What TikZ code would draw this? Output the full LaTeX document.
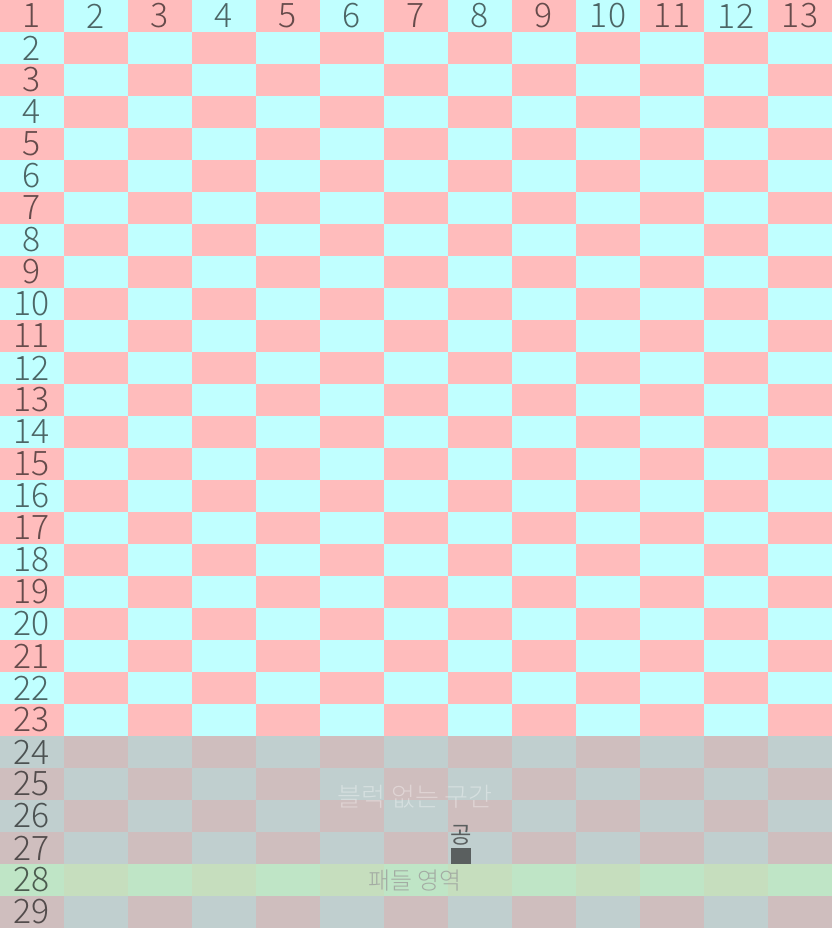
\documentclass[tikz,border=0pt]{standalone}
\usepackage{fontspec}
\setmainfont{Noto Sans CJK KR}
\newfontfamily\thinfont{Noto Sans CJK KR Light}
\usepackage{xcolor}
\usepackage{tikz}
\usetikzlibrary{positioning}
\definecolor{tilePink}{HTML}{FFBCBC}
\definecolor{tileCyan}{HTML}{C0FFFF}
\definecolor{fogGray}{HTML}{C0C0C0}
\definecolor{padGreen}{HTML}{BFF8BF}
\definecolor{ballInk}{HTML}{5A5F5F}
\definecolor{padInk}{HTML}{A3ABA3}

\begin{document}
\begin{tikzpicture}[
  x=0.025cm,y=-0.025cm,
  numlabel/.style={inner sep=0pt,text=black,text opacity=0.6,
                   font=\thinfont\fontsize{24}{24}\selectfont},
  zonelabel/.style={inner sep=0pt,text=white,text opacity=0.35,
                    font=\thinfont\fontsize{18.5}{19}\selectfont},
  ballblock/.style={fill=ballInk,inner sep=0pt,minimum width=0.5cm,minimum height=0.4cm},
  balllabel/.style={inner sep=0pt,text=ballInk,font=\fontsize{16.5}{17}\selectfont}
]
\useasboundingbox (0,0) rectangle (832,928);

% Checkerboard tiles
\foreach \c in {1,...,13}
  \foreach \r in {1,...,29}{
    \ifodd\numexpr\c+\r\relax \def\tilecol{tileCyan}\else \def\tilecol{tilePink}\fi
    \fill[\tilecol] ({(\c-1)*64},{(\r-1)*32}) rectangle ++(64,32);
  }

% Bottom zone and paddle row
\fill[fogGray,opacity=0.75] (0,736) rectangle (832,928);
\fill[padGreen,opacity=0.56] (0,864) rectangle (832,896);

% Column and row numbers
\foreach \c in {1,...,13}
  \node[numlabel] (col\c) at ({(\c-1)*64+32},16) {\c};
\foreach \r in {2,...,29}
  \node[numlabel] (row\r) at (32,{(\r-1)*32+16}) {\r};

% Zone labels and ball
\node[zonelabel] (nozone) at (415,797) {블럭 없는 구간};
\node[ballblock] (ball) at (461,856) {};
\node[balllabel,above=0.06cm of ball] (balltext) {공};
\node[zonelabel,text=padInk,text opacity=1,font=\thinfont\fontsize{17}{17}\selectfont] (paddle) at (415,881) {패들 영역};
\end{tikzpicture}
\end{document}
